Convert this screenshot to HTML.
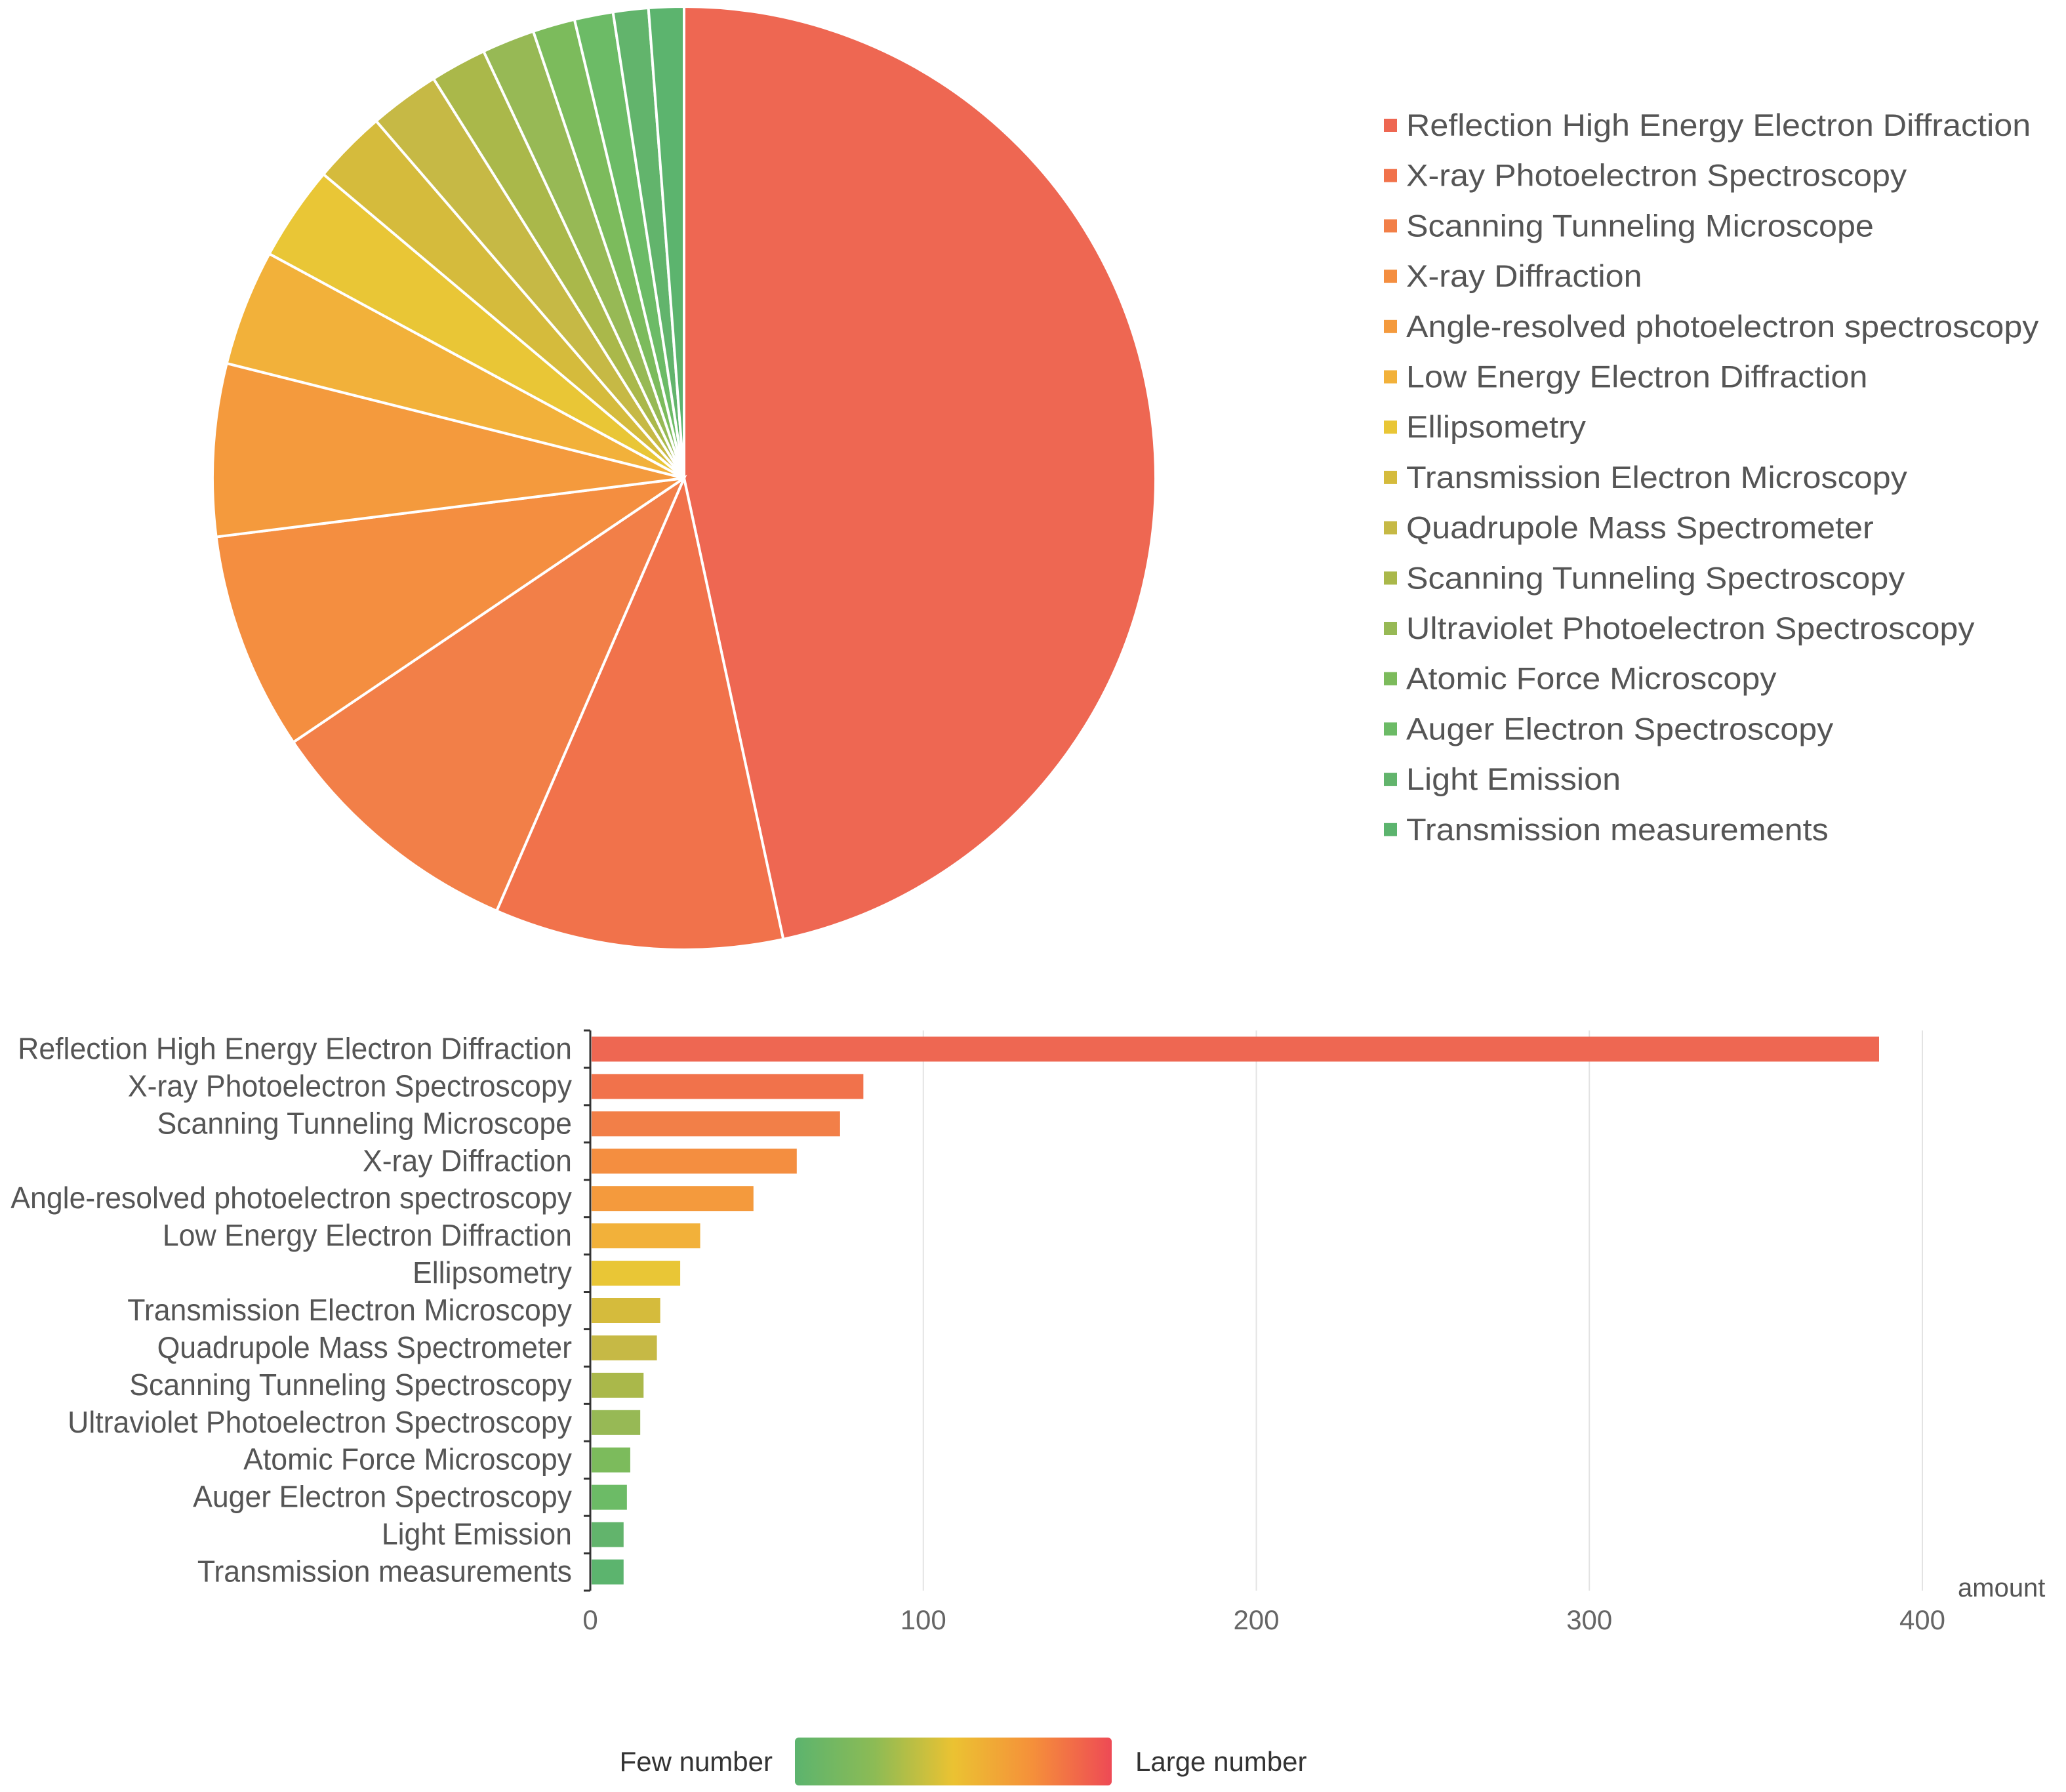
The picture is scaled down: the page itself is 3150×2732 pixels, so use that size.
<!DOCTYPE html>
<html><head><meta charset="utf-8"><style>
html,body{margin:0;padding:0;background:#fff;}
svg{display:block;font-family:"Liberation Sans",sans-serif;}
</style></head><body>
<svg id="chart" width="3150" height="2732" viewBox="0 0 3150 2732" xmlns="http://www.w3.org/2000/svg">
<defs>
<linearGradient id="vm" x1="0" x2="1" y1="0" y2="0">
<stop offset="0" stop-color="#5cb46e"/><stop offset="0.25" stop-color="#8cbb55"/>
<stop offset="0.5" stop-color="#ebc232"/><stop offset="0.75" stop-color="#f5903a"/>
<stop offset="1" stop-color="#ee4a55"/>
</linearGradient>
</defs>
<g id="pie"></g>
<g id="legend"></g>
<g id="bars"></g>
<g>
<text x="1178" y="2700" text-anchor="end" font-size="42" fill="#333">Few number</text>
<rect x="1212" y="2649" width="483" height="73" rx="6" fill="url(#vm)"/>
<text x="1731" y="2700" font-size="42" fill="#333">Large number</text>
</g>
</svg>
<script>
const categories = ["Reflection High Energy Electron Diffraction","X-ray Photoelectron Spectroscopy","Scanning Tunneling Microscope","X-ray Diffraction","Angle-resolved photoelectron spectroscopy","Low Energy Electron Diffraction","Ellipsometry","Transmission Electron Microscopy","Quadrupole Mass Spectrometer","Scanning Tunneling Spectroscopy","Ultraviolet Photoelectron Spectroscopy","Atomic Force Microscopy","Auger Electron Spectroscopy","Light Emission","Transmission measurements"];
const values = [387,82,75,62,49,33,27,21,20,16,15,12,11,10,10];
const colors = ["#ee6752","#f1724b","#f27f48","#f48e40","#f49a3d","#f2b13a","#e9c636","#d5bb3c","#c6b945","#aab84a","#97b955","#7cbb5c","#6cbb66","#62b46c","#5cb46e"];
const xTicks = [0,100,200,300,400];

const NS="http://www.w3.org/2000/svg";
function mk(tag,attrs,parent){const e=document.createElementNS(NS,tag);for(const k in attrs)e.setAttribute(k,attrs[k]);parent.appendChild(e);return e;}
function stretch(t,f){try{const L=t.getComputedTextLength();if(L>0){t.setAttribute('textLength',L*f);t.setAttribute('lengthAdjust','spacingAndGlyphs');}}catch(e){}}

// Pie
const pieG=document.getElementById('pie');
const cx=1043,cy=729,r=719;
const total=values.reduce((a,b)=>a+b,0);
let ang=0;
values.forEach((v,i)=>{
  const a0=ang, a1=ang+v/total*2*Math.PI; ang=a1;
  const px0=cx+r*Math.sin(a0), py0=cy-r*Math.cos(a0);
  const px1=cx+r*Math.sin(a1), py1=cy-r*Math.cos(a1);
  const large=(a1-a0)>Math.PI?1:0;
  const p=mk('path',{d:`M${cx},${cy} L${px0},${py0} A${r},${r} 0 ${large} 1 ${px1},${py1} Z`,fill:colors[i],stroke:'#fff','stroke-width':4},pieG);
  
  
});

// Legend
const leg=document.getElementById('legend');
categories.forEach((c,i)=>{
  const y=191+i*76.7;
  const g=mk('g',{},leg);
  
  
  mk('rect',{x:2110,y:y-10,width:20,height:20,fill:colors[i]},g);
  const t=mk('text',{x:2144,y:y+16,'font-size':47,fill:'#555'},g);
  t.textContent=c;
  stretch(t,1.07);
});

// Bars
const barsG=document.getElementById('bars');
const plotLeft=900,plotRight=2931,plotTop=1571,plotBottom=2425;
const xs=v=>plotLeft+(v-xTicks[0])/(xTicks[xTicks.length-1]-xTicks[0])*(plotRight-plotLeft);
const band=(plotBottom-plotTop)/categories.length;
xTicks.forEach(t=>{
  if(t>0){const l=mk('line',{x1:xs(t),x2:xs(t),y1:plotTop,y2:plotBottom,stroke:'#e3e3e3','stroke-width':2},barsG);
  
  }
  const tx=mk('text',{x:xs(t),y:2484,'font-size':42,fill:'#666','text-anchor':'middle'},barsG);
  
  
  tx.textContent=t;
});
const ax=mk('line',{x1:plotLeft,x2:plotLeft,y1:plotTop,y2:plotBottom,stroke:'#333','stroke-width':3},barsG);


for(let i=0;i<=categories.length;i++){
  const tk=mk('line',{x1:plotLeft-10,x2:plotLeft,y1:plotTop+i*band,y2:plotTop+i*band,stroke:'#333','stroke-width':3},barsG);
  
  
}
categories.forEach((c,i)=>{
  const yc=plotTop+band*(i+0.5);
  const b=mk('rect',{x:plotLeft+2,y:yc-19,width:Math.max(0,xs(values[i])-xs(0)-2),height:38,fill:colors[i]},barsG);
  
  
  const t=mk('text',{x:872,y:yc+15,'font-size':46,fill:'#555','text-anchor':'end'},barsG);
  
  
  t.textContent=c;
  stretch(t,0.97);
});
const am=mk('text',{x:2985,y:2434,'font-size':40,fill:'#555'},barsG);


am.textContent='amount';
</script>
</body></html>
